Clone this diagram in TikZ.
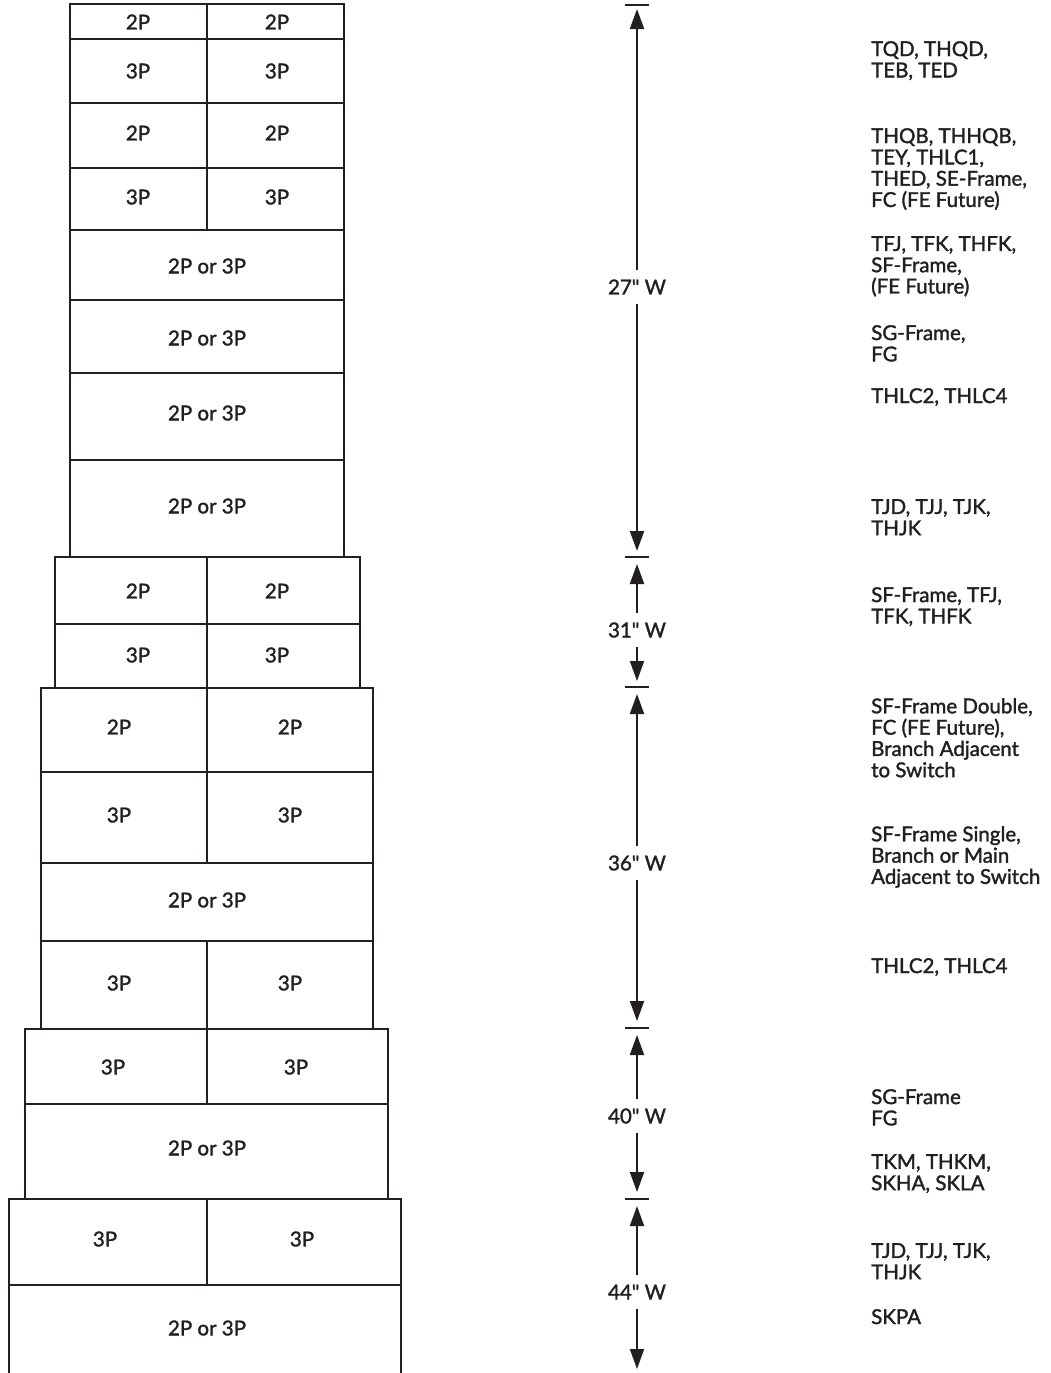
\documentclass[tikz,border=0pt]{standalone}
\usepackage{fontspec}
\setmainfont{Lato}[Ligatures=TeXOff, FakeBold=1.6]
\usetikzlibrary{arrows.meta}
\definecolor{ink}{HTML}{231F20}
\newcommand{\fnt}{\fontsize{20.5pt}{21.3pt}\selectfont}
\tikzset{
  box/.style={line width=2.6pt, draw=ink, line join=miter},
  cell/.style={font=\fnt, text=ink, inner sep=0pt, anchor=center},
  note/.style={font=\fnt, text=ink, inner sep=0pt, anchor=north west, align=left},
  dimlbl/.style={font=\fnt, text=ink, inner xsep=0pt, inner ysep=9pt, anchor=center},
  dimline/.style={line width=2pt, draw=ink, -{Triangle[length=20pt,width=14pt]}},
  tickmark/.style={line width=2pt, draw=ink}
}
\begin{document}
\begin{tikzpicture}[x=1pt,y=-1pt]
\useasboundingbox (0,0) rectangle (1050,1373);
% ---- 27" section
\draw[box] (70,4) rectangle (344,557);
\foreach \yy in {39,103,168,230,300,373,460} \draw[box] (70,\yy) -- (344,\yy);
\draw[box] (207,4) -- (207,230);
% ---- 31" section
\draw[box] (55,557) rectangle (360,688);
\draw[box] (55,624) -- (360,624);
\draw[box] (207,557) -- (207,688);
% ---- 36" section
\draw[box] (41,688) rectangle (373,1029);
\foreach \yy in {772,863,941} \draw[box] (41,\yy) -- (373,\yy);
\draw[box] (207,688) -- (207,863);
\draw[box] (207,941) -- (207,1029);
% ---- 40" section
\draw[box] (25,1029) rectangle (388,1199);
\draw[box] (25,1104) -- (388,1104);
\draw[box] (207,1029) -- (207,1104);
% ---- 44" section
\draw[box] (9,1373) -- (9,1199) -- (401,1199) -- (401,1373);
\draw[box] (9,1285) -- (401,1285);
\draw[box] (207,1199) -- (207,1285);

% ---- cell labels
\node[cell] (a1) at (138,22) {2P};
\node[cell] (a2) at (277,22) {2P};
\node[cell] (a3) at (138,71) {3P};
\node[cell] (a4) at (277,71) {3P};
\node[cell] (a5) at (138,133) {2P};
\node[cell] (a6) at (277,133) {2P};
\node[cell] (a7) at (138,197) {3P};
\node[cell] (a8) at (277,197) {3P};
\node[cell] (a9) at (207,266) {2P or 3P};
\node[cell] (a10) at (207,338) {2P or 3P};
\node[cell] (a11) at (207,413) {2P or 3P};
\node[cell] (a12) at (207,506) {2P or 3P};
\node[cell] (b1) at (138,591) {2P};
\node[cell] (b2) at (277,591) {2P};
\node[cell] (b3) at (138,655) {3P};
\node[cell] (b4) at (277,655) {3P};
\node[cell] (c1) at (119,727) {2P};
\node[cell] (c2) at (290,727) {2P};
\node[cell] (c3) at (119,815) {3P};
\node[cell] (c4) at (290,815) {3P};
\node[cell] (c5) at (207,900) {2P or 3P};
\node[cell] (c6) at (119,983) {3P};
\node[cell] (c7) at (290,983) {3P};
\node[cell] (d1) at (113,1067) {3P};
\node[cell] (d2) at (296,1067) {3P};
\node[cell] (d3) at (207,1148) {2P or 3P};
\node[cell] (e1) at (105,1239) {3P};
\node[cell] (e2) at (302,1239) {3P};
\node[cell] (e3) at (207,1328) {2P or 3P};

% ---- dimension line
\coordinate (t0) at (637,5);
\coordinate (t1) at (637,557);
\coordinate (t2) at (637,687);
\coordinate (t3) at (637,1028);
\coordinate (t4) at (637,1199);
\coordinate (t5) at (637,1369);
\foreach \t in {t0,t1,t2,t3,t4}
  \draw[tickmark] ([xshift=-12pt]\t) -- ([xshift=12pt]\t);
\node[dimlbl] (w27) at (637,287) {27" W};
\node[dimlbl] (w31) at (637,630) {31" W};
\node[dimlbl] (w36) at (637,863) {36" W};
\node[dimlbl] (w40) at (637,1116) {40" W};
\node[dimlbl] (w44) at (637,1292) {44" W};
\draw[dimline] (w27.north) -- ([yshift=-4pt]t0);
\draw[dimline] (w27.south) -- ([yshift=6pt]t1);
\draw[dimline] (w31.north) -- ([yshift=-7pt]t1);
\draw[dimline] (w31.south) -- ([yshift=6pt]t2);
\draw[dimline] (w36.north) -- ([yshift=-7pt]t2);
\draw[dimline] (w36.south) -- ([yshift=7pt]t3);
\draw[dimline] (w40.north) -- ([yshift=-7pt]t3);
\draw[dimline] (w40.south) -- ([yshift=7pt]t4);
\draw[dimline] (w44.north) -- ([yshift=-7pt]t4);
\draw[dimline] (w44.south) -- (t5);

% ---- notes
\node[note] (n1) at (871,41) {TQD, THQD,\\TEB, TED};
\node[note] (n2) at (871,128) {THQB, THHQB,\\TEY, THLC1,\\THED, SE-Frame,\\FC (FE Future)};
\node[note] (n3) at (871,236) {TFJ, TFK, THFK,\\SF-Frame,\\(FE Future)};
\node[note] (n4) at (871,325) {SG-Frame,\\FG};
\node[note] (n5) at (871,388) {THLC2, THLC4};
\node[note] (n6) at (871,499) {TJD, TJJ, TJK,\\THJK};
\node[note] (n7) at (871,587) {SF-Frame, TFJ,\\TFK, THFK};
\node[note] (n8) at (871,698) {SF-Frame Double,\\FC (FE Future),\\Branch Adjacent\\to Switch};
\node[note] (n9) at (871,826) {SF-Frame Single,\\Branch or Main\\Adjacent to Switch};
\node[note] (n10) at (871,958) {THLC2, THLC4};
\node[note] (n11) at (871,1089) {SG-Frame\\FG};
\node[note] (n12) at (871,1154) {TKM, THKM,\\SKHA, SKLA};
\node[note] (n13) at (871,1243) {TJD, TJJ, TJK,\\THJK};
\node[note] (n14) at (871,1309) {SKPA};
\end{tikzpicture}
\end{document}
